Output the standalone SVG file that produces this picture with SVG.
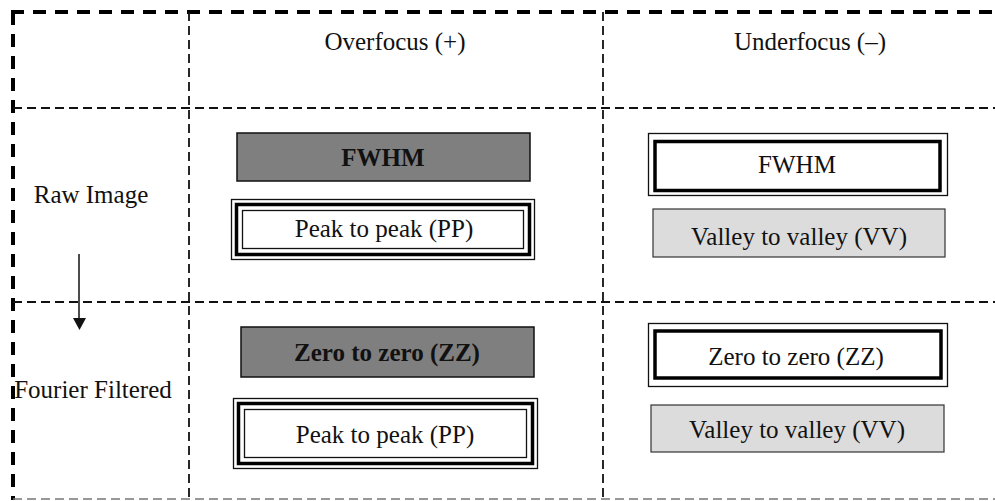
<svg xmlns="http://www.w3.org/2000/svg" width="995" height="501" viewBox="0 0 995 501">
<defs>
<style>
.t{font-family:"Liberation Serif","Times New Roman",serif;font-size:25px;fill:#111;text-anchor:middle}
.b{font-weight:bold}
.thick{stroke:#000;stroke-width:4;stroke-dasharray:13 9;fill:none}
.thin{stroke:#111;stroke-width:1.8;stroke-dasharray:9 5;fill:none}
.dark{fill:#7f7f7f;stroke:#111;stroke-width:1.5}
.light{fill:#dcdcdc;stroke:#333;stroke-width:1.2}
.o1{fill:#fff;stroke:#111;stroke-width:1.3}
.o2{fill:none;stroke:#000;stroke-width:3.5}
</style>
</defs>
<rect width="995" height="501" fill="#fff"/>
<g id="grid">
<line class="thick" x1="11" y1="12" x2="995" y2="12"/>
<line class="thick" x1="13" y1="12" x2="13" y2="500"/>
<line class="thin" x1="13" y1="108" x2="995" y2="108"/>
<line class="thin" x1="13" y1="302" x2="995" y2="302"/>
<line x1="13" y1="499" x2="995" y2="499" stroke="#777" stroke-width="1.5" stroke-dasharray="9 5"/>
<line class="thin" x1="189" y1="12" x2="189" y2="500"/>
<line class="thin" x1="603" y1="12" x2="603" y2="500"/>
</g>
<g id="headers">
<text class="t" x="395" y="50">Overfocus (+)</text>
<text class="t" x="810" y="50">Underfocus (–)</text>
</g>
<g id="row-labels">
<text class="t" x="91" y="203">Raw Image</text>
<text class="t" x="93" y="398">Fourier Filtered</text>
</g>
<g id="node-fwhm-over">
<rect class="dark" x="237" y="133" width="293" height="48"/>
<text class="t b" x="383" y="166">FWHM</text>
</g>
<g id="node-pp-raw">
<rect class="o1" x="231.5" y="199.5" width="303" height="60"/>
<rect class="o2" x="236.5" y="204.5" width="293" height="50"/>
<rect class="o1" x="242.5" y="210.5" width="281" height="38"/>
<text class="t" x="384" y="237">Peak to peak (PP)</text>
</g>
<g id="node-fwhm-under">
<rect class="o1" x="648.5" y="133.5" width="299" height="62"/>
<rect class="o2" x="655" y="141.5" width="285" height="49" fill="#fff"/>
<text class="t" x="797" y="173">FWHM</text>
</g>
<g id="node-vv-raw">
<rect class="light" x="653" y="209" width="292" height="48"/>
<text class="t" x="799" y="245">Valley to valley (VV)</text>
</g>
<g id="node-zz-over">
<rect class="dark" x="241" y="327" width="293" height="50"/>
<text class="t b" x="387" y="361">Zero to zero (ZZ)</text>
</g>
<g id="node-pp-ff">
<rect class="o1" x="233.5" y="398.5" width="304" height="70"/>
<rect class="o2" x="238.5" y="403.5" width="294" height="60"/>
<rect class="o1" x="244.5" y="409.5" width="282" height="48"/>
<text class="t" x="385" y="443">Peak to peak (PP)</text>
</g>
<g id="node-zz-under">
<rect class="o1" x="648.5" y="323.5" width="299" height="63"/>
<rect class="o2" x="655" y="331" width="286" height="47" fill="#fff"/>
<text class="t" x="796" y="365">Zero to zero (ZZ)</text>
</g>
<g id="node-vv-ff">
<rect class="light" x="651" y="405" width="293" height="47"/>
<text class="t" x="797" y="438">Valley to valley (VV)</text>
</g>
<g id="connectors">
<line x1="79" y1="254" x2="79" y2="320" stroke="#111" stroke-width="1.5"/>
<polygon points="73,318 86,318 79.5,330" fill="#111"/>
</g>
</svg>
